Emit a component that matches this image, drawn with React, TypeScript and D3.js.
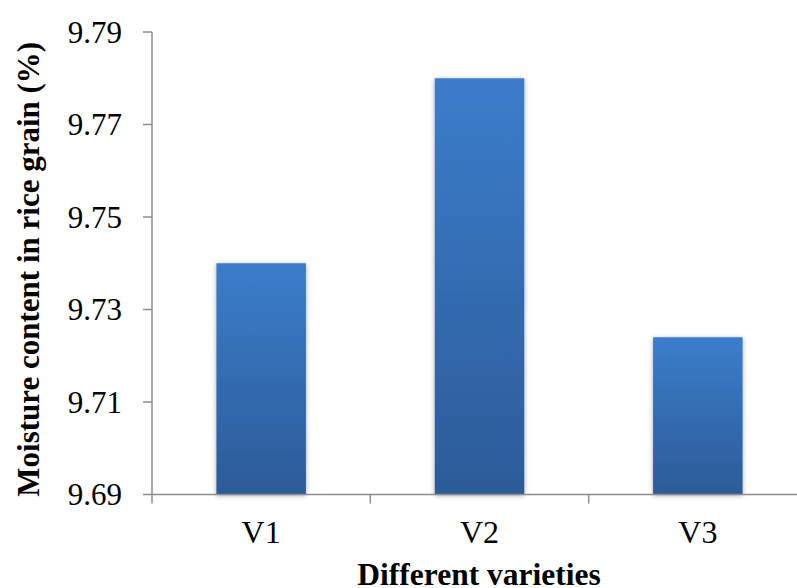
import React from "react";
import * as d3 from "d3";

const categories = ["V1", "V2", "V3"];
const values = [9.74, 9.78, 9.724];
const yTicks = [9.69, 9.71, 9.73, 9.75, 9.77, 9.79];
const xTitle = "Different varieties";
const yTitle = "Moisture content in rice grain (%)";

export default function App() {
  const W = 797, H = 588;
  const left = 152, right = 807, top = 32, bottom = 494.5;
  const x = d3.scaleBand<string>().domain(categories).range([left, right]).paddingInner(0.59).paddingOuter(0.295);
  const y = d3.scaleLinear().domain([9.69, 9.79]).range([bottom, top]);
  const font = "'Liberation Serif', 'Times New Roman', serif";
  const axisColor = "#8c8c8c";
  const step = x.step();
  return (
    <svg width={W} height={H} style={{ position: "absolute", left: 0, top: 0, background: "#fff" }}>
      <defs>
        <linearGradient id="barGrad" x1="0" y1="0" x2="0" y2="1">
          <stop offset="0%" stopColor="#3b7dcb" />
          <stop offset="100%" stopColor="#2c5b98" />
        </linearGradient>
        <filter id="shadow" x="-20%" y="-10%" width="140%" height="120%">
          <feGaussianBlur in="SourceAlpha" stdDeviation="2.5" />
          <feOffset dx="0" dy="1" result="b" />
          <feComponentTransfer><feFuncA type="linear" slope="0.35" /></feComponentTransfer>
          <feMerge><feMergeNode /><feMergeNode in="SourceGraphic" /></feMerge>
        </filter>
      </defs>
      {categories.map((c, i) => (
        <rect key={c} x={x(c)} y={y(values[i])} width={x.bandwidth()} height={bottom - y(values[i])}
          fill="url(#barGrad)" filter="url(#shadow)" />
      ))}
      {/* y axis */}
      <line x1={left} x2={left} y1={top} y2={bottom + 9} stroke={axisColor} strokeWidth={1.5} />
      {yTicks.map((t) => (
        <g key={t}>
          <line x1={left - 9} x2={left} y1={y(t)} y2={y(t)} stroke={axisColor} strokeWidth={1.5} />
          <text x={122} y={y(t)} dy="0.35em" textAnchor="end" fontFamily={font} fontSize={31} fill="#000">
            {t.toFixed(2)}
          </text>
        </g>
      ))}
      {/* x axis */}
      <line x1={left} x2={right} y1={bottom} y2={bottom} stroke={axisColor} strokeWidth={1.5} />
      {categories.map((c, i) => (
        <g key={c}>
          <line x1={left + step * (i + 1)} x2={left + step * (i + 1)} y1={bottom} y2={bottom + 9} stroke={axisColor} strokeWidth={1.5} />
          <text x={(x(c) as number) + x.bandwidth() / 2} y={543} textAnchor="middle" fontFamily={font} fontSize={32} fill="#000">
            {c}
          </text>
        </g>
      ))}
      <text x={479} y={585} textAnchor="middle" fontFamily={font} fontSize={31.5} fontWeight="bold" fill="#000">
        {xTitle}
      </text>
      <text transform={`translate(39, ${(top + bottom) / 2 + 6}) rotate(-90)`} textAnchor="middle" fontFamily={font} fontSize={31} fontWeight="bold" fill="#000">
        {yTitle}
      </text>
    </svg>
  );
}
